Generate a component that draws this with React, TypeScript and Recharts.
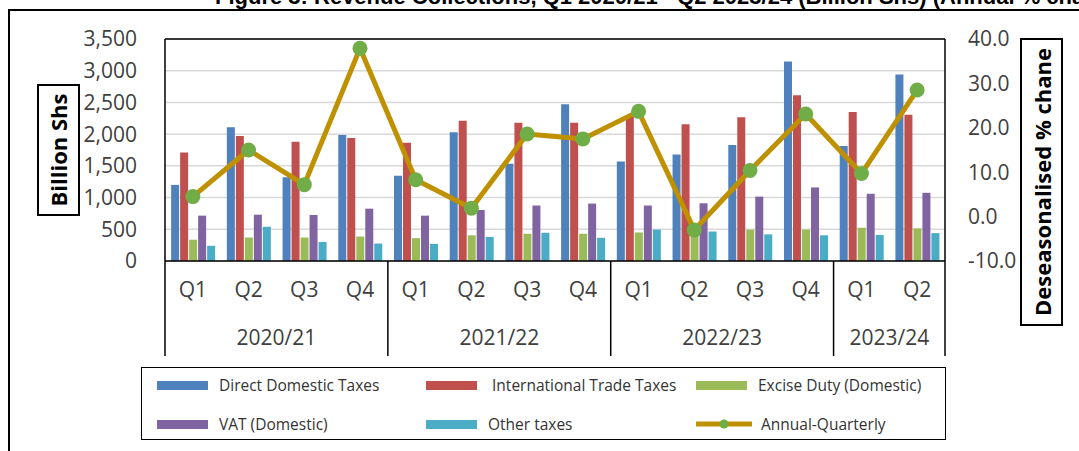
import { ComposedChart, Bar, Line, XAxis, YAxis, CartesianGrid, ReferenceLine } from 'recharts'

// quarters and fiscal years, one entry per category
const quarters = ['Q1', 'Q2', 'Q3', 'Q4', 'Q1', 'Q2', 'Q3', 'Q4', 'Q1', 'Q2', 'Q3', 'Q4', 'Q1', 'Q2']
const years = [
  '2020/21', '2020/21', '2020/21', '2020/21',
  '2021/22', '2021/22', '2021/22', '2021/22',
  '2022/23', '2022/23', '2022/23', '2022/23',
  '2023/24', '2023/24',
]

// Billion Shs
const directDomestic = [1200, 2110, 1320, 1985, 1345, 2030, 1535, 2470, 1570, 1680, 1830, 3145, 1815, 2940]
const internationalTrade = [1710, 1970, 1880, 1940, 1865, 2210, 2180, 2180, 2290, 2155, 2265, 2615, 2350, 2305]
const exciseDuty = [335, 370, 370, 385, 360, 405, 430, 430, 450, 445, 495, 495, 525, 515]
const vat = [715, 730, 725, 825, 715, 805, 875, 905, 875, 910, 1015, 1160, 1060, 1075]
const otherTaxes = [240, 540, 300, 275, 270, 380, 445, 365, 495, 465, 420, 405, 410, 440]
// deseasonalised % change
const annualQuarterly = [4.5, 15.0, 7.2, 37.9, 8.3, 1.9, 18.6, 17.5, 23.7, -3.0, 10.4, 23.1, 9.7, 28.5]

const leftTicks = [0, 500, 1000, 1500, 2000, 2500, 3000, 3500]
const rightTicks = [-10, 0, 10, 20, 30, 40]

const data = quarters.map((q, i) => ({
  key: `${years[i]} ${q}`,
  direct: directDomestic[i],
  intl: internationalTrade[i],
  excise: exciseDuty[i],
  vat: vat[i],
  other: otherTaxes[i],
  aq: annualQuarterly[i],
}))

const bars = [
  { key: 'direct', name: 'Direct Domestic Taxes', color: '#4F81BD' },
  { key: 'intl', name: ' International Trade Taxes', color: '#C0504D' },
  { key: 'excise', name: 'Excise Duty (Domestic)', color: '#9BBB59' },
  { key: 'vat', name: 'VAT (Domestic)', color: '#8064A2' },
  { key: 'other', name: 'Other taxes', color: '#4BACC6' },
]
const LINE_COLOR = '#BF9000'
const DOT_COLOR = '#70AD47'

const W = 1079
const H = 451
const PLOT_LEFT = 165
const PLOT_RIGHT = 945
const AXIS_H = 95
const BAND = (PLOT_RIGHT - PLOT_LEFT) / quarters.length
const FONT = '"Open Sans", sans-serif'
const TICK = { fill: '#404040', fontSize: 21, fontFamily: FONT }

function CategoryTick(props: any) {
  const { x, y } = props
  const i = props.payload?.index ?? props.index
  const groupStart = i === 0 || years[i] !== years[i - 1]
  const last = i === quarters.length - 1
  let size = 0
  if (groupStart) {
    while (i + size < years.length && years[i + size] === years[i]) size++
  }
  const left = x - BAND / 2
  return (
    <g>
      <text x={x} y={y + 30} textAnchor="middle" dominantBaseline="middle" {...TICK}>
        {quarters[i]}
      </text>
      {groupStart && (
        <>
          <line x1={left} x2={left} y1={y} y2={y + AXIS_H} stroke="#000" strokeWidth={1.5} />
          <text x={left + (size * BAND) / 2} y={y + 78} textAnchor="middle" dominantBaseline="middle" {...TICK}>
            {years[i]}
          </text>
        </>
      )}
      {last && <line x1={x + BAND / 2} x2={x + BAND / 2} y1={y} y2={y + AXIS_H} stroke="#000" strokeWidth={1.5} />}
    </g>
  )
}

const legendCols = [15, 284, 554]
const legendRows = [17, 56]
const legendEntries = [
  ...bars.map((b) => ({ name: b.name, color: b.color, line: false })),
  { name: 'Annual-Quarterly', color: LINE_COLOR, line: true },
]

export default function App() {
  return (
    <div style={{ position: 'absolute', left: 0, top: 0, width: W, height: H, overflow: 'hidden', background: '#fff', fontFamily: FONT }}>
      {/* title, clipped at the top edge as in the source */}
      <div style={{ position: 'absolute', left: 215, top: -14, whiteSpace: 'nowrap', fontFamily: '"Liberation Sans", Arial, sans-serif', fontWeight: 'bold', fontSize: 22, lineHeight: '22px', color: '#000' }}>
        Figure 3: Revenue Collections, Q1 2020/21 - Q2 2023/24 (Billion Shs) (Annual % change)
      </div>
      <div style={{ position: 'absolute', left: 8, top: 9, width: W, height: H, border: '2px solid #000' }} />

      <div style={{ position: 'absolute', left: 0, top: 0 }}>
        <ComposedChart
          width={W}
          height={H}
          data={data}
          margin={{ top: 39, right: 54, bottom: 95, left: 0 }}
          barCategoryGap="11%"
          barGap={1}
        >
          <CartesianGrid yAxisId="left" vertical={false} stroke="#d9d9d9" strokeWidth={1.5} />
          <XAxis
            dataKey="key"
            height={AXIS_H}
            tickSize={0}
            tickMargin={0}
            interval={0}
            axisLine={{ stroke: '#000', strokeWidth: 1.5 }}
            tick={<CategoryTick />}
          />
          <YAxis
            yAxisId="left"
            width={165}
            domain={[0, 3500]}
            ticks={leftTicks}
            tickLine={false}
            tickMargin={22}
            axisLine={{ stroke: '#000', strokeWidth: 1.5 }}
            tick={TICK}
            tickFormatter={(v: number) => v.toLocaleString('en-US')}
          />
          <YAxis
            yAxisId="right"
            orientation="right"
            width={80}
            domain={[-10, 40]}
            ticks={rightTicks}
            tickLine={false}
            tickMargin={17}
            axisLine={{ stroke: '#000', strokeWidth: 1.5 }}
            tick={{ ...TICK, textAnchor: 'start' }}
            tickFormatter={(v: number) => v.toFixed(1)}
          />
          <ReferenceLine yAxisId="left" y={3500} stroke="#000" strokeWidth={1.5} />
          {bars.map((b) => (
            <Bar key={b.key} yAxisId="left" dataKey={b.key} name={b.name} fill={b.color} isAnimationActive={false} />
          ))}
          <Line
            yAxisId="right"
            dataKey="aq"
            name="Annual-Quarterly"
            stroke={LINE_COLOR}
            strokeWidth={5}
            strokeLinejoin="round"
            dot={{ r: 7.5, fill: DOT_COLOR, stroke: DOT_COLOR, strokeWidth: 0 }}
            isAnimationActive={false}
          />
        </ComposedChart>
      </div>

      {/* axis titles */}
      <div style={{ position: 'absolute', left: 37, top: 84, width: 39, height: 128, border: '2px solid #000', display: 'flex', alignItems: 'center', justifyContent: 'center' }}>
        <div style={{ transform: 'rotate(-90deg)', whiteSpace: 'nowrap', fontWeight: 'bold', fontSize: 22, color: '#000' }}>Billion Shs</div>
      </div>
      <div style={{ position: 'absolute', left: 1020, top: 38, width: 39, height: 284, border: '2px solid #000', display: 'flex', alignItems: 'center', justifyContent: 'center' }}>
        <div style={{ transform: 'rotate(-90deg)', whiteSpace: 'nowrap', fontWeight: 'bold', fontSize: 22, color: '#000' }}>Deseasonalised % chane</div>
      </div>

      {/* legend */}
      <div style={{ position: 'absolute', left: 141, top: 367, width: 803, height: 71, border: '1.5px solid #000', fontSize: 15.5, color: '#333' }}>
        {legendEntries.map((e, k) => {
          const cx = legendCols[k % 3]
          const cy = legendRows[Math.floor(k / 3)]
          return (
            <div key={e.name} style={{ position: 'absolute', left: cx, top: cy - 12, height: 24, display: 'flex', alignItems: 'center', whiteSpace: 'pre' }}>
              {e.line ? (
                <svg width={56} height={14} style={{ marginRight: 9 }}>
                  <line x1={1} x2={55} y1={7} y2={7} stroke={e.color} strokeWidth={5} strokeLinecap="round" />
                  <circle cx={28} cy={7} r={4.5} fill={DOT_COLOR} />
                </svg>
              ) : (
                <div style={{ width: 51, height: 9, background: e.color, marginRight: 11 }} />
              )}
              <span>{e.name}</span>
            </div>
          )
        })}
      </div>
    </div>
  )
}
